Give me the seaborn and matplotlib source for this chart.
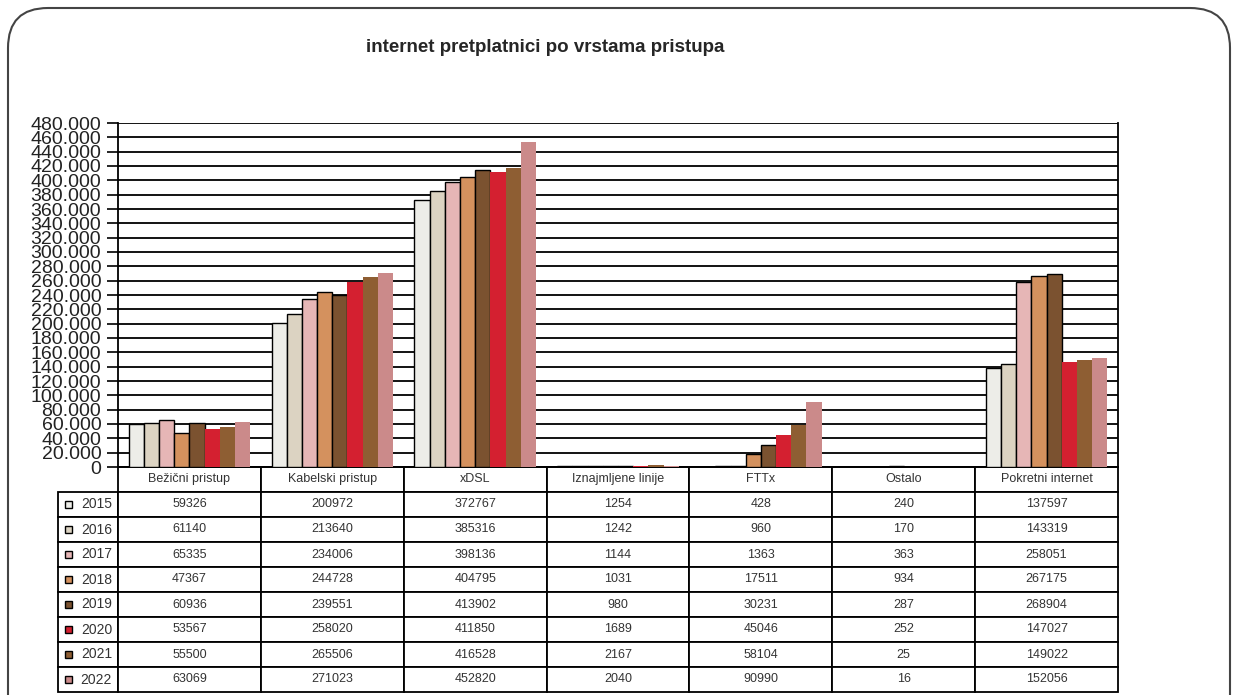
import matplotlib
matplotlib.use("Agg")
import matplotlib.pyplot as plt
from matplotlib.patches import Rectangle, FancyBboxPatch
from matplotlib.ticker import MultipleLocator, FuncFormatter
import pandas as pd
import seaborn as sns

categories = ["Bežični pristup", "Kabelski pristup", "xDSL", "Iznajmljene linije",
              "FTTx", "Ostalo", "Pokretni internet"]
years = ["2015", "2016", "2017", "2018", "2019", "2020", "2021", "2022"]
v2015 = [59326, 200972, 372767, 1254, 428, 240, 137597]
v2016 = [61140, 213640, 385316, 1242, 960, 170, 143319]
v2017 = [65335, 234006, 398136, 1144, 1363, 363, 258051]
v2018 = [47367, 244728, 404795, 1031, 17511, 934, 267175]
v2019 = [60936, 239551, 413902, 980, 30231, 287, 268904]
v2020 = [53567, 258020, 411850, 1689, 45046, 252, 147027]
v2021 = [55500, 265506, 416528, 2167, 58104, 25, 149022]
v2022 = [63069, 271023, 452820, 2040, 90990, 16, 152056]
values = [v2015, v2016, v2017, v2018, v2019, v2020, v2021, v2022]
colors = ["#EDEDE8", "#DCD3C2", "#E6B6B6", "#D4915E", "#7B5230", "#D42030", "#8E5E33", "#CB8A8A"]

df = pd.DataFrame(
    [(cat, yr, v) for yr, vals in zip(years, values) for cat, v in zip(categories, vals)],
    columns=["vrsta", "godina", "pretplatnici"],
)

sns.set_style("white")
plt.rcParams["font.family"] = ["Liberation Sans", "DejaVu Sans"]

W, H = 1236, 695
fig = plt.figure(figsize=(W / 100, H / 100), dpi=100)

# rounded frame around the chart
fig.patches.append(FancyBboxPatch((0.08, -0.6), 12.22, 7.47,
                                  boxstyle="round,pad=0,rounding_size=0.4",
                                  transform=fig.dpi_scale_trans, fill=False,
                                  edgecolor="#444444", linewidth=1.5))

ax = fig.add_axes([118 / W, 1 - 467 / H, 1000 / W, 344 / H])
sns.barplot(data=df, x="vrsta", y="pretplatnici", hue="godina", order=categories,
            hue_order=years, palette=colors, width=0.85, saturation=1,
            legend=False, ax=ax, zorder=3)
for i, cont in enumerate(ax.containers):
    for bar in cont:
        bar.set_edgecolor("black" if i < 5 else "none")
        bar.set_linewidth(1.0)

ax.set_xlim(-0.5, 6.5)
ax.set_ylim(0, 480000)
ax.yaxis.set_major_locator(MultipleLocator(20000))
ax.yaxis.set_major_formatter(FuncFormatter(lambda v, p: f"{v:,.0f}".replace(",", ".")))
ax.grid(axis="y", color="black", linewidth=1.3)
ax.set_axisbelow(True)
ax.set_xlabel("")
ax.set_ylabel("")
ax.tick_params(axis="x", bottom=False, labelbottom=False)
ax.tick_params(axis="y", left=True, direction="out", length=8, width=1.2,
               color="black", pad=4, labelsize=14, labelcolor="#222222")
for side in ["left", "bottom", "right"]:
    ax.spines[side].set_color("black")
    ax.spines[side].set_linewidth(1.3)
ax.spines["top"].set_visible(False)

# data table under the chart
row_h = 225 / 344
cell_text = [[yr] + [str(v) for v in vals] for yr, vals in zip(years, values)]
tbl = ax.table(cellText=cell_text, colLabels=[""] + categories,
               colWidths=[0.06] + [1 / 7] * 7, cellLoc="center",
               bbox=[-0.06, -row_h, 1.06, row_h])
tbl.auto_set_font_size(False)
tbl.set_fontsize(9)
for (r, c), cell in tbl.get_celld().items():
    cell.set_edgecolor("black")
    cell.set_linewidth(1.3)
    cell.get_text().set_color("#333333")
    if c == 0:
        cell.get_text().set_ha("right")
        cell.get_text().set_fontsize(10)
tbl[0, 0].visible_edges = "open"

h = row_h / 9
for i, col in enumerate(colors):
    yc = -(i + 1.5) * h
    ax.add_patch(Rectangle((-0.053, yc - 3.5 / 344), 0.007, 7 / 344,
                           transform=ax.transAxes, clip_on=False,
                           facecolor=col, edgecolor="black", linewidth=1.0, zorder=5))

fig.text(545 / W, 1 - 48 / H, "internet pretplatnici po vrstama pristupa",
         ha="center", va="center", fontsize=13.5, fontweight="bold")

fig.savefig("out.png", dpi=100)
